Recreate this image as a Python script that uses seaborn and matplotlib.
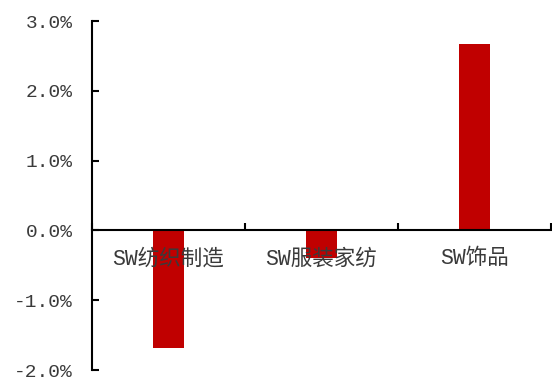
import matplotlib
matplotlib.use("Agg")
import matplotlib.pyplot as plt
import seaborn as sns
import pandas as pd

categories = ["SW纺织制造", "SW服装家纺", "SW饰品"]
returns_pct = [-1.69, -0.40, 2.67]
y_ticks = [-2.0, -1.0, 0.0, 1.0, 2.0, 3.0]
y_tick_labels = ["-2.0%", "-1.0%", "0.0%", "1.0%", "2.0%", "3.0%"]

sns.set_style("white")
plt.rcParams["font.family"] = ["Liberation Mono", "Noto Sans CJK SC", "DejaVu Sans"]

df = pd.DataFrame({"category": categories, "ret": returns_pct})

fig = plt.figure(figsize=(5.52, 3.80), dpi=100)
ax = fig.add_axes([0.1667, 0.0263, 0.8313, 0.9184])

sns.barplot(data=df, x="category", y="ret", color="#C00000", width=0.2,
            saturation=1, ax=ax)
for p in ax.patches:
    p.set_edgecolor("none")

ax.set_xlim(-0.5, 2.5)
ax.set_ylim(-2.0, 3.0)
ax.set_xlabel("")
ax.set_ylabel("")
# axis lines and tick labels drawn over the bars
ax.set_axisbelow(False)

text_color = "#3a3a3a"

# y axis
ax.set_yticks(y_ticks)
ax.set_yticklabels(y_tick_labels, fontsize=14, color=text_color)
ax.tick_params(axis="y", direction="in", length=5, width=1.5, pad=14,
               left=True, color="black")

# x axis sits on the zero line; boundary ticks point up, labels centred
ax.spines["bottom"].set_position(("data", 0))
ax.set_xticks([-0.5, 0.5, 1.5, 2.5])
ax.set_xticklabels([])
ax.tick_params(axis="x", which="major", direction="in", length=5, width=1.5,
               bottom=True, color="black")
ax.set_xticks([0, 1, 2], minor=True)
ax.set_xticklabels(categories, minor=True, fontsize=15.5, color=text_color,
                   fontweight="light")
ax.tick_params(axis="x", which="minor", length=0, pad=13)

for side in ["left", "bottom"]:
    ax.spines[side].set_color("black")
    ax.spines[side].set_linewidth(1.5)
for side in ["top", "right"]:
    ax.spines[side].set_visible(False)

fig.savefig("out.png", dpi=100, facecolor="white")
